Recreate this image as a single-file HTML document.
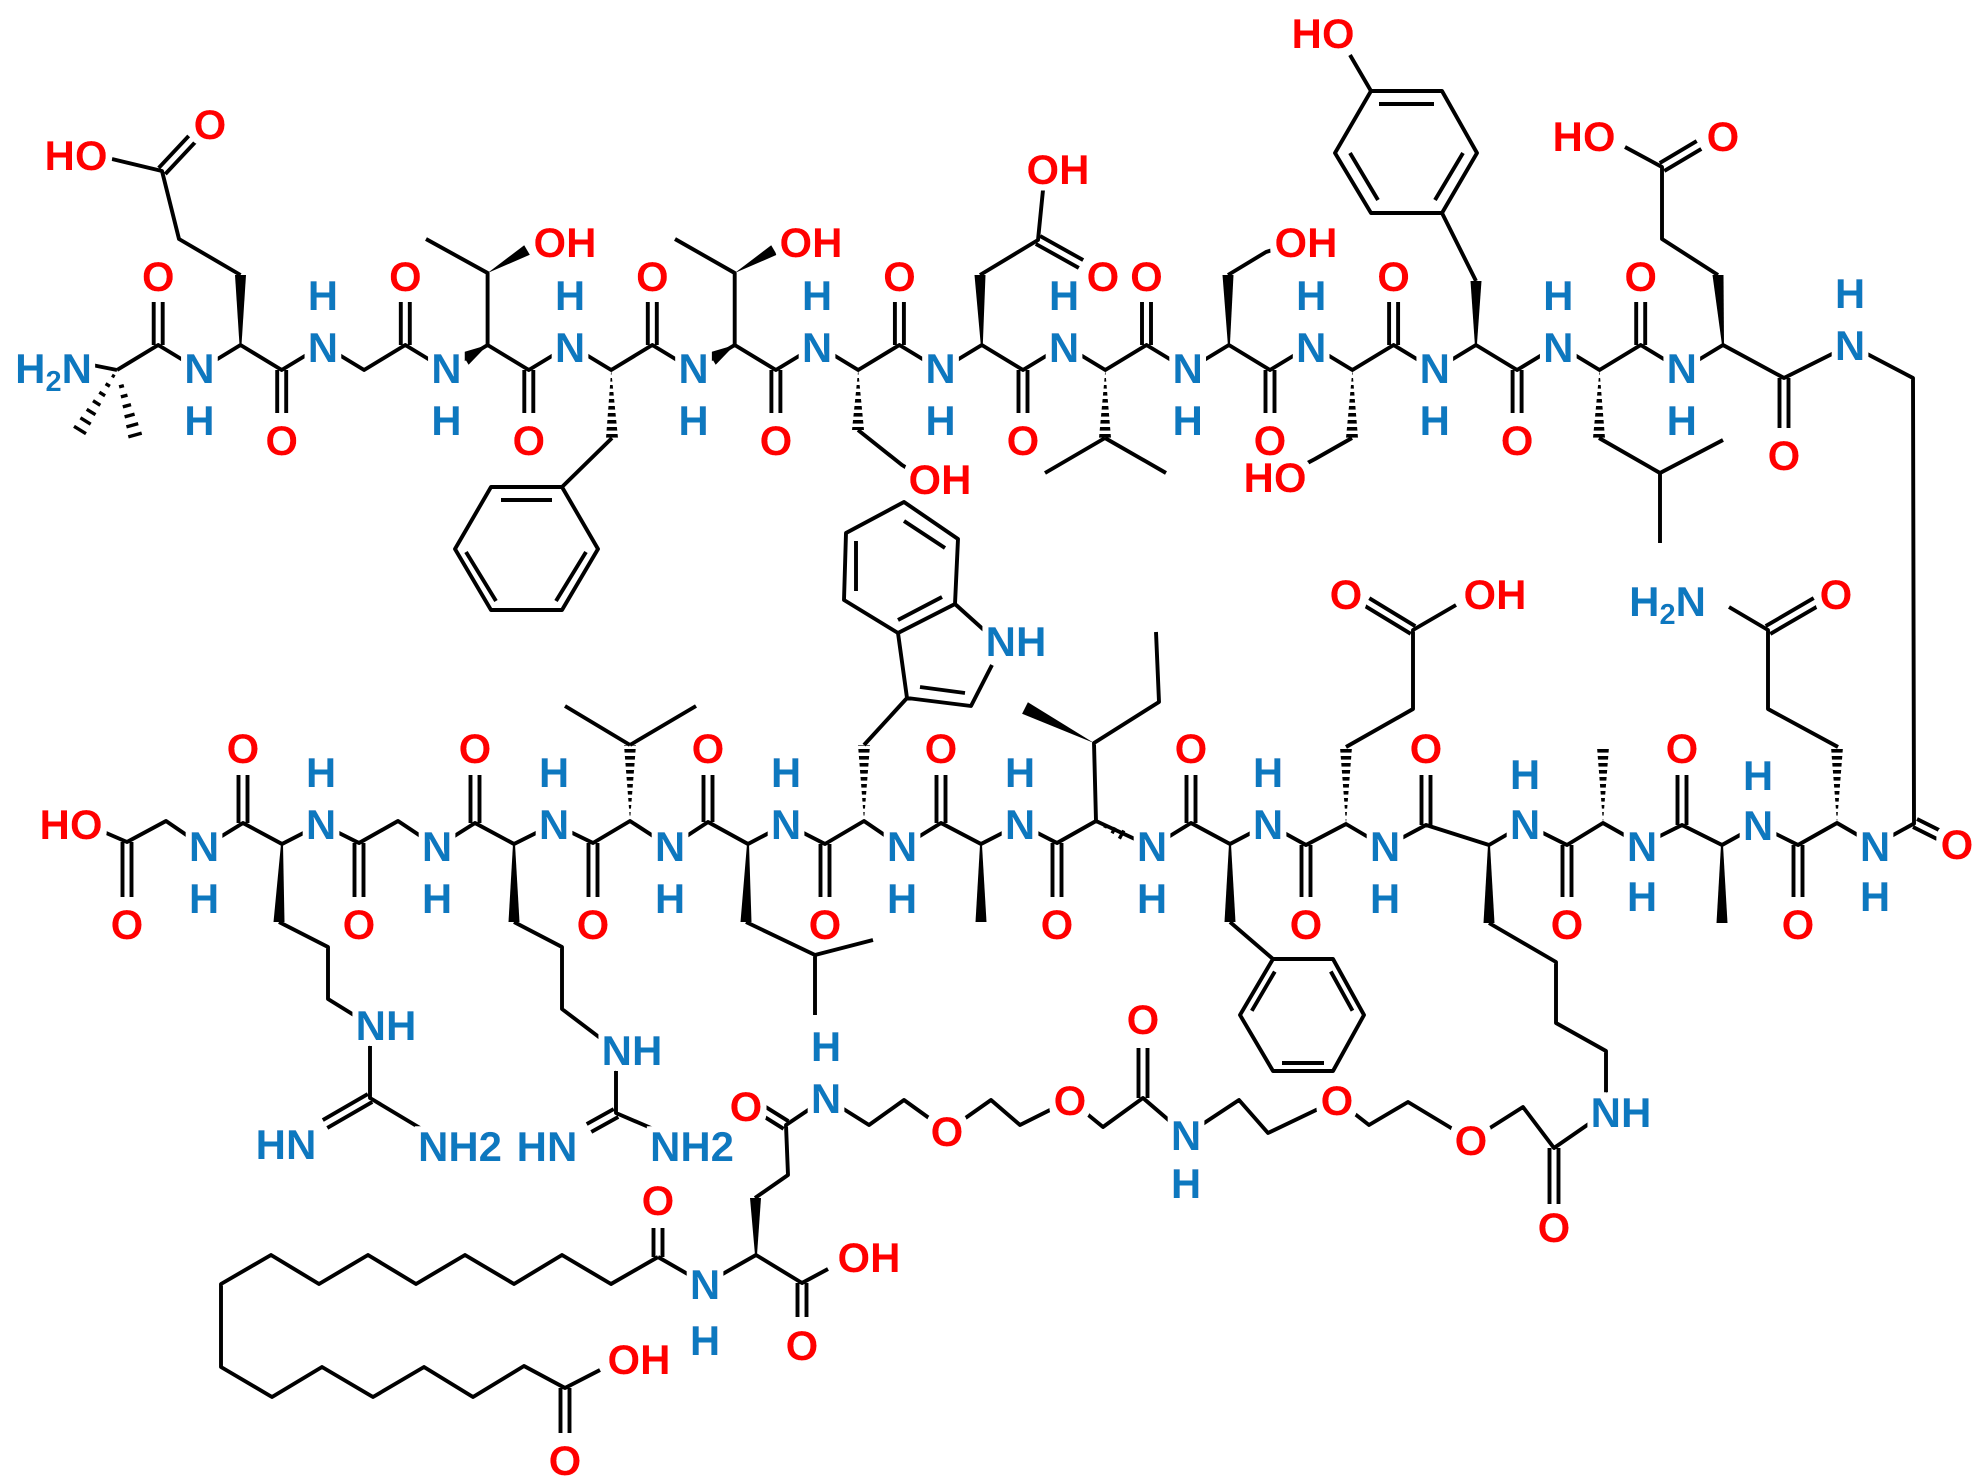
<!DOCTYPE html>
<html><head><meta charset="utf-8"><style>
html,body{margin:0;padding:0;background:#fff}
svg{display:block}
text{font-family:"Liberation Sans",Arial,sans-serif;font-weight:bold;font-size:42px}
.o{fill:#ff0000}.n{fill:#0b78bf}
</style></head><body>
<svg width="1980" height="1480" viewBox="0 0 1980 1480" xmlns="http://www.w3.org/2000/svg">
<defs>
<pattern id="hp" patternUnits="userSpaceOnUse" width="20" height="7"><rect x="0" y="0" width="20" height="3.6" fill="#000"/></pattern>
<filter id="halo" filterUnits="userSpaceOnUse" x="0" y="0" width="1980" height="1480">
<feMorphology in="SourceAlpha" operator="dilate" radius="6" result="d"/>
<feFlood flood-color="#fff"/><feComposite in2="d" operator="in" result="w"/>
<feMerge><feMergeNode in="w"/><feMergeNode in="SourceGraphic"/></feMerge>
</filter>
</defs>
<g fill="none" stroke="#000" stroke-width="3.9" stroke-linejoin="round">
<polyline points="117,370 158.2,345 199.4,370 240.5,345 281.7,370 322.9,345 364.1,370 405.3,345 446.4,370 487.6,345 528.8,370 570,345 611.2,370 652.3,345 693.5,370 734.7,345 775.9,370 817.1,345 858.2,370 899.4,345 940.6,370 981.8,345 1023,370 1064.1,345 1105.3,370 1146.5,345 1187.7,370 1228.9,345 1270,370 1311.2,345 1352.4,370 1393.6,345 1434.8,370 1475.9,345 1517.1,370 1558.3,345 1599.5,370 1640.7,345 1681.8,370 1723,345 1784,378 1850,345 1913,378 1914,824"/>
<path d="M117,370L77,362
M153.7,345V302M162.7,345V302 M400.8,345V302M409.8,345V302 M647.8,345V302M656.8,345V302 M894.9,345V302M903.9,345V302 M1142,345V302M1151,345V302 M1389.1,345V302M1398.1,345V302 M1636.2,345V302M1645.2,345V302
M277.2,370V413M286.2,370V413 M524.3,370V413M533.3,370V413 M771.4,370V413M780.4,370V413 M1018.5,370V413M1027.5,370V413 M1265.5,370V413M1274.5,370V413 M1512.6,370V413M1521.6,370V413
M1779.5,378V428M1788.5,378V428
M240.5,275L179,239L162,171L112,159 M165.3,174.1L195.3,142.1M158.7,167.9L188.7,135.9
M487.6,345V273L426,239
M612,438L562,487
M734.7,345V273L675,239
M858,430L902,465L920,476
M980,275L1038,240L1043,190 M1035.8,243.9L1078.8,267.9M1040.2,236.1L1083.2,260.1
M1105,438L1045,473M1105,438L1166,473
M1228,275L1266,252L1285,246
M1352,438L1315,459L1298,468
M1476,281L1442,213 M1371,91L1350,55
M1599,438L1660,473L1723,440M1660,473V543
M1718,275L1662,239V167L1625,147 M1664.3,170.9L1701.3,148.9M1659.7,163.1L1696.7,141.1
"/>
<polygon points="562,487 491,487 455,549 491,610 562,610 598,549"/>
<path d="M501,500H552 M466,552L496,601 M556,601L586,552"/>
<polygon points="1371,91 1442,91 1477,153 1442,213 1371,213 1335,153"/>
<path d="M1379,104H1434 M1350,153L1378,200 M1435,200L1463,153"/>
<polyline points="90,826 127,842 166,821 204,847 243,823 282,844 321,824 359,843 398,821 437,847 475,823 514,844 554,824 593,843 630,821 670,847 708,822 748,844 786,824 825,844 864,821 902,847 941,823 981,844 1020,824 1057,843 1096,821 1152,847 1191,823 1230,844 1268,824 1306,845 1346,824 1385,847 1426,825 1489,845 1525,824 1567,845 1603,823 1642,845 1682,825 1722,845 1758,825 1798,845 1837,823 1875,845 1915,823"/>
<path d="M122.5,842V897M131.5,842V897 M354.5,843V897M363.5,843V897 M588.5,843V897M597.5,843V897 M820.5,844V897M829.5,844V897 M1052.5,843V897M1061.5,843V897 M1301.5,845V897M1310.5,845V897 M1562.5,845V897M1571.5,845V897 M1793.5,845V897M1802.5,845V897
M238.5,823V775M247.5,823V775 M470.5,823V775M479.5,823V775 M703.5,822V775M712.5,822V775 M936.5,823V775M945.5,823V775 M1186.5,823V775M1195.5,823V775 M1421.5,825V775M1430.5,825V775 M1677.5,825V775M1686.5,825V775
M1913,827L1937,839M1917,819L1941,831
M279,922L328,947V999L370,1025V1098L420,1128 M372.3,1101.9L327.3,1127.9M367.8,1094.1L322.8,1120.1
M514,922L562,947V1009L616,1050V1113L658,1131 M618.3,1116.9L591.3,1131.9M613.7,1109.1L586.7,1124.1
M630,745L565,706M630,745L696,706
M746,922L815,955L873,940M815,955V1015
M864,745L907,698L898,633 M907,698L971,706L992,665 M955,604L995,640
M920,687L965,693 M904,521L945,548 M856,541V591 M898,620L942,597
M1096,821L1094,743L1159,702L1156,632
M1230,922L1273,959 M1274.8,971.6L1251.8,1010.8 M1282,1063H1324 M1330.8,971.5L1352.5,1010.7
M1346,747L1413,709V630L1456,605 M1415.3,626.2L1369.3,598.2M1410.7,633.8L1364.7,605.8
M1489,923L1556,962V1023L1606,1051V1112
M1838,747L1768,709V630L1729,607 M1770.3,633.9L1818.3,605.9M1765.7,626.1L1813.7,598.1
M1606,1112L1554,1148L1523,1107L1471,1140L1408,1102L1369,1125L1337,1100L1268,1133L1239,1100L1186,1135L1143,1098L1103,1127L1070,1100L1020,1125L991,1100L947,1131L904,1100L869,1125L826,1098L786,1125L788,1175L755,1198
M1549.5,1148V1204M1558.5,1148V1204 M1138.5,1098V1048M1147.5,1098V1048
M788.4,1121.2L764.4,1106.2M783.6,1128.8L759.6,1113.8
M658,1257L705,1284L756,1255L802,1283L828,1269 M797.5,1283V1317M806.5,1283V1317
M653.5,1257V1228M662.5,1257V1228
M658,1257L611,1284L562,1255L514,1284L465,1255L416,1284L368,1255L319,1284L271,1255L221,1284V1367L272,1397L322,1367L373,1397L424,1367L473,1397L524,1366L565,1388L600,1370
M560.5,1388V1433M569.5,1388V1433
"/>
<polygon points="898,633 844,600 846,533 904,502 958,539 955,604"/>
<polygon points="1273,959 1333,959 1364,1015 1333,1071 1273,1071 1240,1015"/>
</g>
<g stroke="#000" stroke-width="3.4" fill="none">
<path d="M111.9,375.2L114.7,376.8M105.6,383.7L109.9,386.3M99.3,392.2L105.1,395.8M93,400.7L100.3,405.3M86.7,409.3L95.5,414.7M80.4,417.8L90.7,424.2M74,426.3L86,433.7
M119.1,386.9L123.9,385.6M120.9,396.9L127.5,395.1M122.8,406.9L131,404.6M124.6,416.9L134.6,414.1M126.4,426.9L138.2,423.6M128.3,436.9L141.7,433.1
M1104.7,827.9L1106.5,824.3M1112.1,833.3L1115.1,827.5M1119.4,838.7L1123.8,830.5"/>
</g>
<g fill="#000" stroke="none">
<polygon points="239.5,345 241.5,345 246,275 235,275"/>
<polygon points="487.6,345 468.6,364.8 461.4,352.8"/>
<polygon points="487.6,273 529.8,254.8 524.2,245.3"/>
<polygon points="734.7,345 715.7,364.8 708.5,352.8"/>
<polygon points="734.7,273 776.8,254.8 771.2,245.3"/>
<polygon points="980.8,345 982.8,345 985.5,275 974.5,275"/>
<polygon points="1227.9,345 1229.9,345 1233.5,275 1222.5,275"/>
<polygon points="1474.9,345 1476.9,345 1481.5,281 1470.5,281"/>
<polygon points="1722,345 1724,345 1723.5,275 1712.5,275"/>
<polygon points="281,844 283,844 284.5,922 273.5,922"/>
<polygon points="513,844 515,844 519.5,922 508.5,922"/>
<polygon points="747,844 749,844 751.5,922 740.5,922"/>
<polygon points="980,845 982,845 986.5,922 975.5,922"/>
<polygon points="1094,743 1027.9,702.2 1022.1,713.8"/>
<polygon points="1229,844 1231,844 1235.5,922 1224.5,922"/>
<polygon points="1488,845 1490,845 1494.5,923 1483.5,923"/>
<polygon points="1721,845 1723,845 1727.5,923 1716.5,923"/>
<polygon points="755,1255 757,1255 761,1198 750,1198"/>
</g>
<g fill="url(#hp)" stroke="none">
<polygon points="611.2,370 618,438 606,438"/>
<polygon points="858.2,370 864,430 852,430"/>
<polygon points="1105.3,370 1111,438 1099,438"/>
<polygon points="1352.4,370 1358,438 1346,438"/>
<polygon points="1599.5,370 1605,438 1593,438"/>
<polygon points="630,821 636,745 624,745"/>
<polygon points="864,821 870,745 858,745"/>
<polygon points="1346,824 1352,747 1340,747"/>
<polygon points="1603,823 1609,747 1597,747"/>
<polygon points="1837,823 1843,747 1831,747"/>
</g>
<g fill="#fff">
<ellipse cx="1471" cy="1140" rx="14" ry="17"/><ellipse cx="1337" cy="1100" rx="14" ry="17"/>
<ellipse cx="1070" cy="1100" rx="14" ry="17"/><ellipse cx="947" cy="1131" rx="14" ry="17"/>
</g>
<g filter="url(#halo)" text-anchor="middle">
<text class="n" x="92" y="383" text-anchor="end">H<tspan font-size="29" dy="8">2</tspan><tspan dy="-8">N</tspan></text>
<g class="o">
<text x="76" y="170">HO</text><text x="210" y="139">O</text>
<text x="565" y="257">OH</text><text x="811" y="257">OH</text>
<text x="940" y="494">OH</text><text x="1058" y="184">OH</text><text x="1103" y="291">O</text>
<text x="1306" y="257">OH</text><text x="1275" y="492">HO</text><text x="1323" y="48">HO</text>
<text x="1584" y="151">HO</text><text x="1723" y="151">O</text>
<text x="158.2" y="291">O</text><text x="405.3" y="291">O</text><text x="652.3" y="291">O</text><text x="899.4" y="291">O</text><text x="1146.5" y="291">O</text><text x="1393.6" y="291">O</text><text x="1640.7" y="291">O</text>
<text x="281.7" y="455">O</text><text x="528.8" y="455">O</text><text x="775.9" y="455">O</text><text x="1023" y="455">O</text><text x="1270" y="455">O</text><text x="1517.1" y="455">O</text>
<text x="1784" y="470">O</text>
<text x="71" y="839">HO</text>
<text x="127" y="939">O</text><text x="359" y="939">O</text><text x="593" y="939">O</text><text x="825" y="939">O</text><text x="1057" y="939">O</text><text x="1306" y="939">O</text><text x="1567" y="939">O</text><text x="1798" y="939">O</text>
<text x="243" y="763">O</text><text x="475" y="763">O</text><text x="708" y="763">O</text><text x="941" y="763">O</text><text x="1191" y="763">O</text><text x="1426" y="763">O</text><text x="1682" y="763">O</text>
<text x="1957" y="859">O</text>
<text x="1346" y="609">O</text><text x="1495" y="609">OH</text><text x="1836" y="609">O</text>
<text x="1471" y="1155">O</text><text x="1337" y="1115">O</text><text x="1070" y="1115">O</text><text x="947" y="1146">O</text>
<text x="1554" y="1242">O</text><text x="1143" y="1034">O</text><text x="746" y="1121">O</text>
<text x="658" y="1215">O</text><text x="869" y="1272">OH</text><text x="802" y="1360">O</text>
<text x="639" y="1374">OH</text><text x="565" y="1475">O</text>
</g>
<g class="n">
<text x="199.4" y="383">N</text><text x="446.4" y="383">N</text><text x="693.5" y="383">N</text><text x="940.6" y="383">N</text><text x="1187.7" y="383">N</text><text x="1434.8" y="383">N</text><text x="1681.8" y="383">N</text>
<text x="199.4" y="435">H</text><text x="446.4" y="435">H</text><text x="693.5" y="435">H</text><text x="940.6" y="435">H</text><text x="1187.7" y="435">H</text><text x="1434.8" y="435">H</text><text x="1681.8" y="435">H</text>
<text x="322.9" y="362">N</text><text x="570" y="362">N</text><text x="817.1" y="362">N</text><text x="1064.1" y="362">N</text><text x="1311.2" y="362">N</text><text x="1558.3" y="362">N</text><text x="1850" y="360">N</text>
<text x="322.9" y="310">H</text><text x="570" y="310">H</text><text x="817.1" y="310">H</text><text x="1064.1" y="310">H</text><text x="1311.2" y="310">H</text><text x="1558.3" y="310">H</text><text x="1850" y="308">H</text>
<text x="204" y="861">N</text><text x="437" y="861">N</text><text x="670" y="861">N</text><text x="902" y="861">N</text><text x="1152" y="861">N</text><text x="1385" y="861">N</text><text x="1642" y="861">N</text><text x="1875" y="861">N</text>
<text x="204" y="913">H</text><text x="437" y="913">H</text><text x="670" y="913">H</text><text x="902" y="913">H</text><text x="1152" y="913">H</text><text x="1385" y="913">H</text><text x="1642" y="911">H</text><text x="1875" y="911">H</text>
<text x="321" y="839">N</text><text x="554" y="839">N</text><text x="786" y="839">N</text><text x="1020" y="839">N</text><text x="1268" y="839">N</text><text x="1525" y="839">N</text><text x="1758" y="840">N</text>
<text x="321" y="787">H</text><text x="554" y="787">H</text><text x="786" y="787">H</text><text x="1020" y="787">H</text><text x="1268" y="787">H</text><text x="1525" y="789">H</text><text x="1758" y="790">H</text>
<text x="386" y="1040">NH</text><text x="286" y="1159">HN</text><text x="460" y="1161">NH2</text>
<text x="632" y="1065">NH</text><text x="547" y="1161">HN</text><text x="692" y="1161">NH2</text>
<text x="1016" y="656">NH</text>
<text x="1621" y="1127">NH</text>
<text x="1186" y="1150">N</text><text x="1186" y="1198">H</text>
<text x="826" y="1113">N</text><text x="826" y="1061">H</text>
<text x="705" y="1299">N</text><text x="705" y="1355">H</text>
<text x="1706" y="616" text-anchor="end">H<tspan font-size="29" dy="8">2</tspan><tspan dy="-8">N</tspan></text>
</g>
</g>
</svg>
</body></html>
